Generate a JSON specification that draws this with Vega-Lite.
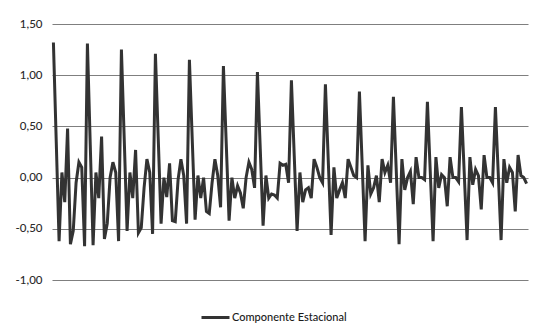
{
  "$schema": "https://vega.github.io/schema/vega-lite/v6.json",
  "width": 476,
  "height": 256,
  "autosize": {"type": "none"},
  "padding": {"left": 52, "top": 24, "right": 10, "bottom": 48},
  "background": "white",
  "config": {"view": {"stroke": null}, "font": "Lato"},
  "data": {"values": [
    {"t":0,"v":1.32},{"t":1,"v":0.35},{"t":2,"v":-0.62},{"t":3,"v":0.05},{"t":4,"v":-0.24},{"t":5,"v":0.48},{"t":6,"v":-0.65},{"t":7,"v":-0.52},{"t":8,"v":-0.05},{"t":9,"v":0.15},{"t":10,"v":0.10},{"t":11,"v":-0.67},
    {"t":12,"v":1.31},{"t":13,"v":0.32},{"t":14,"v":-0.66},{"t":15,"v":0.05},{"t":16,"v":-0.20},{"t":17,"v":0.40},{"t":18,"v":-0.60},{"t":19,"v":-0.45},{"t":20,"v":0.00},{"t":21,"v":0.15},{"t":22,"v":0.05},{"t":23,"v":-0.62},
    {"t":24,"v":1.25},{"t":25,"v":0.37},{"t":26,"v":-0.52},{"t":27,"v":0.05},{"t":28,"v":-0.20},{"t":29,"v":0.27},{"t":30,"v":-0.54},{"t":31,"v":-0.49},{"t":32,"v":-0.10},{"t":33,"v":0.18},{"t":34,"v":0.05},{"t":35,"v":-0.55},
    {"t":36,"v":1.21},{"t":37,"v":0.38},{"t":38,"v":-0.45},{"t":39,"v":0.00},{"t":40,"v":-0.19},{"t":41,"v":0.14},{"t":42,"v":-0.42},{"t":43,"v":-0.43},{"t":44,"v":-0.02},{"t":45,"v":0.18},{"t":46,"v":0.02},{"t":47,"v":-0.45},
    {"t":48,"v":1.15},{"t":49,"v":0.37},{"t":50,"v":-0.41},{"t":51,"v":0.02},{"t":52,"v":-0.20},{"t":53,"v":0.00},{"t":54,"v":-0.33},{"t":55,"v":-0.35},{"t":56,"v":-0.05},{"t":57,"v":0.18},{"t":58,"v":0.02},{"t":59,"v":-0.29},
    {"t":60,"v":1.09},{"t":61,"v":0.33},{"t":62,"v":-0.42},{"t":63,"v":0.00},{"t":64,"v":-0.20},{"t":65,"v":-0.08},{"t":66,"v":-0.15},{"t":67,"v":-0.30},{"t":68,"v":0.00},{"t":69,"v":0.15},{"t":70,"v":0.08},{"t":71,"v":-0.10},
    {"t":72,"v":1.03},{"t":73,"v":0.28},{"t":74,"v":-0.47},{"t":75,"v":0.02},{"t":76,"v":-0.20},{"t":77,"v":-0.16},{"t":78,"v":-0.17},{"t":79,"v":-0.20},{"t":80,"v":0.14},{"t":81,"v":0.12},{"t":82,"v":0.13},{"t":83,"v":-0.05},
    {"t":84,"v":0.95},{"t":85,"v":0.21},{"t":86,"v":-0.52},{"t":87,"v":0.05},{"t":88,"v":-0.24},{"t":89,"v":-0.12},{"t":90,"v":-0.10},{"t":91,"v":-0.20},{"t":92,"v":0.18},{"t":93,"v":0.10},{"t":94,"v":0.00},{"t":95,"v":-0.05},
    {"t":96,"v":0.91},{"t":97,"v":0.17},{"t":98,"v":-0.56},{"t":99,"v":0.10},{"t":100,"v":-0.20},{"t":101,"v":-0.12},{"t":102,"v":-0.05},{"t":103,"v":-0.20},{"t":104,"v":0.18},{"t":105,"v":0.10},{"t":106,"v":0.02},{"t":107,"v":0.00},
    {"t":108,"v":0.84},{"t":109,"v":0.11},{"t":110,"v":-0.62},{"t":111,"v":0.12},{"t":112,"v":-0.16},{"t":113,"v":-0.10},{"t":114,"v":0.02},{"t":115,"v":-0.24},{"t":116,"v":0.18},{"t":117,"v":0.05},{"t":118,"v":0.12},{"t":119,"v":-0.05},
    {"t":120,"v":0.79},{"t":121,"v":0.07},{"t":122,"v":-0.65},{"t":123,"v":0.18},{"t":124,"v":-0.12},{"t":125,"v":0.00},{"t":126,"v":0.06},{"t":127,"v":-0.26},{"t":128,"v":0.20},{"t":129,"v":0.00},{"t":130,"v":0.00},{"t":131,"v":-0.02},
    {"t":132,"v":0.74},{"t":133,"v":0.06},{"t":134,"v":-0.62},{"t":135,"v":0.20},{"t":136,"v":-0.10},{"t":137,"v":0.03},{"t":138,"v":0.00},{"t":139,"v":-0.28},{"t":140,"v":0.20},{"t":141,"v":0.00},{"t":142,"v":0.00},{"t":143,"v":-0.04},
    {"t":144,"v":0.69},{"t":145,"v":0.04},{"t":146,"v":-0.61},{"t":147,"v":0.20},{"t":148,"v":-0.07},{"t":149,"v":0.08},{"t":150,"v":0.02},{"t":151,"v":-0.31},{"t":152,"v":0.22},{"t":153,"v":0.00},{"t":154,"v":0.00},{"t":155,"v":-0.05},
    {"t":156,"v":0.69},{"t":157,"v":0.04},{"t":158,"v":-0.61},{"t":159,"v":0.18},{"t":160,"v":-0.05},{"t":161,"v":0.10},{"t":162,"v":0.05},{"t":163,"v":-0.33},{"t":164,"v":0.22},{"t":165,"v":0.02},{"t":166,"v":0.00},{"t":167,"v":-0.06}
  ]},
  "mark": {"type": "line", "strokeWidth": 3, "strokeJoin": "miter", "color": "#333333"},
  "encoding": {
    "x": {"field": "t", "type": "quantitative", "scale": {"domain": [-0.5, 167.5], "nice": false, "zero": false}, "axis": null},
    "y": {"field": "v", "type": "quantitative", "scale": {"domain": [-1, 1.5], "nice": false, "zero": false},
      "axis": {"values": [-1, -0.5, 0, 0.5, 1, 1.5], "title": null, "domain": false, "ticks": false, "labelPadding": 10,
        "labelExpr": "(datum.value < 0 ? '-' : '') + replace(format(abs(datum.value), '.2f'), '.', ',')", "labelFont": "Lato", "labelFontSize": 11.5, "labelFontWeight": 500, "labelColor": "#2b2b2b",
        "grid": true, "gridColor": "#7f7f7f", "gridWidth": 1.1}},
    "color": {"datum": "Componente Estacional", "type": "nominal",
      "scale": {"range": ["#333333"]},
      "legend": {"title": null, "orient": "none", "legendX": 148, "legendY": 278, "symbolType": "stroke", "symbolSize": 784, "symbolStrokeWidth": 3,
        "labelOffset": 1, "labelFont": "Lato", "labelFontSize": 11, "labelFontWeight": 500, "labelColor": "#1a1a1a"}}
  }
}
